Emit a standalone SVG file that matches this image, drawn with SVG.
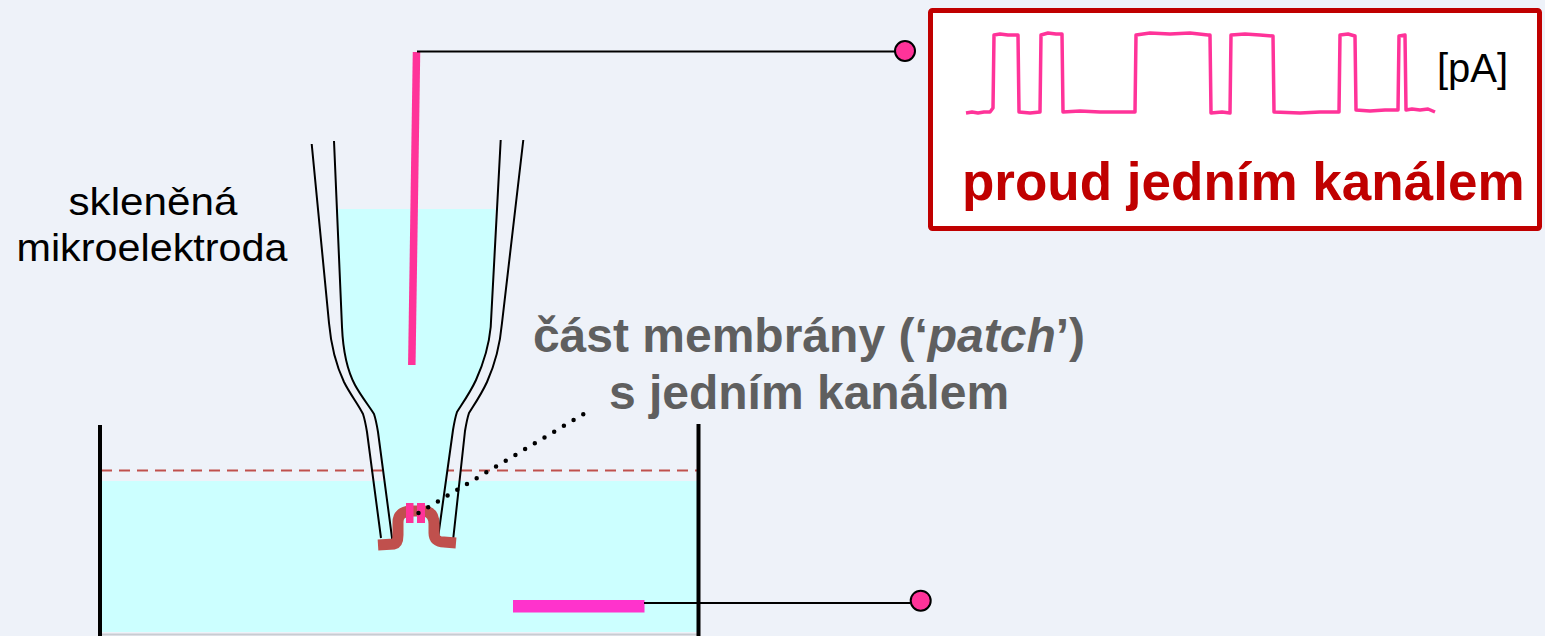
<svg xmlns="http://www.w3.org/2000/svg" width="1545" height="636" viewBox="0 0 1545 636">
  <style>
    .glass { fill: none; stroke: #000; stroke-width: 2; stroke-linejoin: round; }
    .wire { stroke: #000; stroke-width: 2; fill: none; }
    .term { fill: #FF3399; stroke: #000; stroke-width: 2; }
    .wall { stroke: #000; stroke-width: 4; }
    .label { font-family: "Liberation Sans", Arial, sans-serif; }
    .gray { fill: #5F5F5F; font-weight: bold; font-size: 48px; text-anchor: middle; }
  </style>

  <!-- background -->
  <rect x="0" y="0" width="1545" height="636" fill="#EEF2F9"/>

  <!-- bath -->
  <g id="bath">
    <rect x="101" y="481" width="596" height="151" fill="#CCFFFF"/>
    <line x1="101" y1="634.5" x2="697" y2="634.5" stroke="#C9CCD2" stroke-width="2"/>
    <line x1="101" y1="470.5" x2="697" y2="470.5" stroke="#C0504D" stroke-width="2" stroke-dasharray="11 7"/>
    <line class="wall" x1="100" y1="425" x2="100" y2="636"/>
    <line class="wall" x1="698.5" y1="424" x2="698.5" y2="636"/>
  </g>

  <!-- glass micropipette with its filling -->
  <g id="pipette">
    <path d="M337,209 L495.3,209 L490.7,327 C489,345 485,360 476,380 C470,393 462,404 455,416 L437.7,545 L392.7,545 L376,420 C369,408 361,398 354,385 C347,370 343,350 342,327 Z" fill="#CCFFFF"/>
    <path class="glass" d="M311.7,144 L329,323 C331,345 336,365 344,382 C350,394 358,404 363,414 C365,420 366,426 367,432 L381,538"/>
    <path class="glass" d="M334,141 L342,327 C343,350 347,370 355,385 C361,396 369,406 374,414 C376,420 377,426 378,432 L392.7,543"/>
    <path class="glass" d="M500.7,140 L490.7,327 C489,345 485,360 476,380 C470,393 462,404 457,412 C455,418 454,424 453,430 L437.7,540"/>
    <path class="glass" d="M523.3,140 L502,323 C500,345 496,362 487,382 C481,395 474,405 469,413 C467,419 466,425 465,431 L453.3,538"/>
  </g>

  <!-- recording electrode inside the pipette -->
  <g id="electrode">
    <line x1="416.5" y1="52" x2="411.8" y2="365" stroke="#FF3399" stroke-width="7.5"/>
  </g>

  <!-- membrane patch sealed to the tip, with one channel -->
  <g id="patch">
    <path d="M378,545 L394,544 Q398,543 398,535 L398,522 Q398,512 410,511 L424,511 Q434,512 434,524 L434,533 Q434,542 444,542 L456,543" fill="none" stroke="#C0504D" stroke-width="11"/>
    <rect x="406" y="503" width="7.5" height="20" fill="#FF3399"/>
    <rect x="417" y="503" width="8" height="20" fill="#FF3399"/>
  </g>

  <!-- bath (reference) electrode -->
  <g id="bath-electrode">
    <rect x="513" y="600" width="131.5" height="12.5" fill="#FF33CC"/>
  </g>

  <!-- connectors -->
  <g id="connectors">
    <polyline class="wire" points="417,51.5 896,51.5"/>
    <polyline class="wire" points="644,603 910,603"/>
    <line x1="418.5" y1="513" x2="592" y2="409" stroke="#000" stroke-width="4.5" stroke-linecap="round" stroke-dasharray="0 11.3"/>
  </g>

  <!-- terminals -->
  <g id="terminal-top">
    <circle class="term" cx="905" cy="51" r="10"/>
  </g>
  <g id="terminal-bottom">
    <circle class="term" cx="920.7" cy="600.7" r="10"/>
  </g>

  <!-- recorder output -->
  <g id="recorder">
    <rect x="930.5" y="10.5" width="609" height="218" rx="2" fill="#FFFFFF" stroke="#C00000" stroke-width="5"/>
    <path d="M966,113 L972,112 L978,113 L984,112 L990,112 L993,108 L994,35 L1000,34 L1008,35 L1018,35 L1019,112 L1030,113 L1040,112 L1041,35 L1048,33 L1056,34 L1062,34 L1063,112 L1080,111 L1100,112 L1120,112 L1135,112 L1136,35 L1150,33 L1170,34 L1190,33 L1208,35 L1210,35 L1211,113 L1222,112 L1230,113 L1231,35 L1245,34 L1260,35 L1273,36 L1274,112 L1300,113 L1320,112 L1339,112 L1340,35 L1348,34 L1355,36 L1356,110 L1370,111 L1385,110 L1398,110 L1399,36 L1405,35 L1406,110 L1412,109 L1420,110 L1428,109 L1435,112" fill="none" stroke="#FF3399" stroke-width="3.5" stroke-linejoin="round"/>
    <text class="label" x="1437" y="82" font-size="40" fill="#000">[pA]</text>
    <text class="label" x="962" y="200" font-size="53" font-weight="bold" fill="#C00000">proud jedním kanálem</text>
  </g>

  <!-- labels -->
  <g id="label-pipette">
    <text class="label" x="153" y="215" font-size="39" text-anchor="middle" fill="#000" textLength="169" lengthAdjust="spacingAndGlyphs">skleněná</text>
    <text class="label" x="152" y="261" font-size="39" text-anchor="middle" fill="#000" textLength="271" lengthAdjust="spacingAndGlyphs">mikroelektroda</text>
  </g>
  <g id="label-patch">
    <text class="label gray" x="809" y="352">část membrány (‘<tspan font-style="italic">patch</tspan>’)</text>
    <text class="label gray" x="809" y="409">s jedním kanálem</text>
  </g>
</svg>
